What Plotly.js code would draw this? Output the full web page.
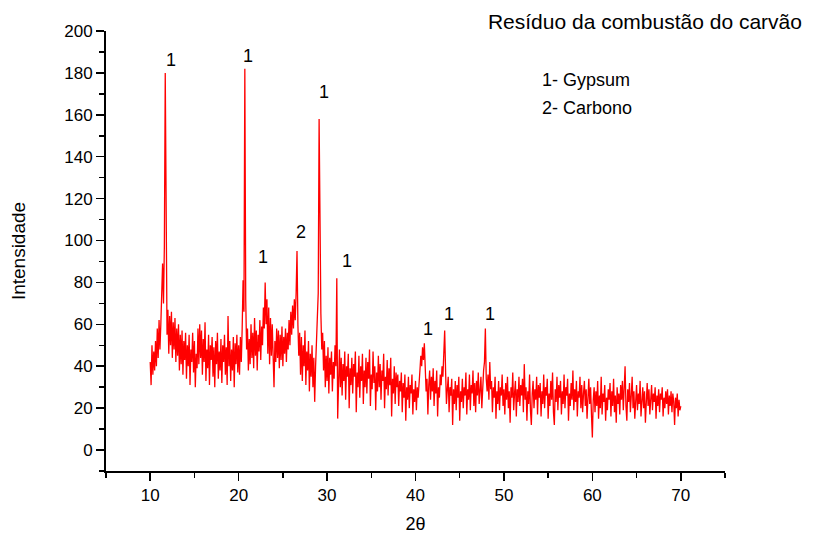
<!DOCTYPE html>
<html>
<head>
<meta charset="utf-8">
<script src="https://cdn.plot.ly/plotly-3.0.1.min.js"></script>
<style>
  html, body { margin: 0; padding: 0; background: #ffffff; }
  #chart { width: 819px; height: 534px; }
</style>
</head>
<body>
<div id="chart"></div>
<script>
// XRD scan of coal combustion residue: 2θ from 10° to 70°, step 0.1°
const scanStart = 10.0;
const scanStep = 0.1;

// Intensities, one block per 10° of 2θ
const counts10to20 = [
  42, 31, 50, 36, 47, 38, 52, 40, 58, 44,
  62, 48, 60, 74, 89, 70, 97, 180, 86, 55,
  67, 46, 64, 50, 66, 44, 61, 48, 63, 42,
  58, 45, 60, 38, 55, 41, 57, 36, 52, 43,
  56, 34, 50, 40, 55, 31, 48, 42, 56, 37,
  52, 30, 46, 39, 58, 41, 60, 44, 57, 36,
  53, 42, 61, 33, 48, 39, 55, 31, 50, 43,
  54, 35, 49, 30, 52, 41, 56, 34, 47, 38,
  53, 32, 50, 42, 55, 36, 49, 31, 64, 40,
  52, 33, 48, 38, 54, 30, 51, 41, 55, 37
];
const counts20to30 = [
  50, 36, 54, 42, 58, 81, 66, 182, 72, 48,
  58, 38, 53, 41, 60, 44, 56, 39, 63, 45,
  57, 38, 55, 47, 62, 43, 59, 50, 68, 58,
  80, 60, 72, 46, 68, 41, 63, 45, 60, 37,
  30, 52, 42, 58, 44, 57, 39, 55, 43, 59,
  40, 54, 46, 58, 42, 56, 48, 62, 50, 66,
  55, 69, 58, 72, 62, 75, 95, 60, 45, 56,
  36, 54, 33, 50, 40, 57, 31, 47, 38, 52,
  28, 46, 35, 50, 30, 44, 23, 40, 52, 60,
  75, 158, 90, 65, 48, 56, 38, 52, 30, 45
];
const counts30to40 = [
  33, 49, 27, 44, 36, 47, 28, 42, 34, 50,
  40, 82, 15, 38, 48, 30, 44, 26, 41, 33,
  47, 24, 40, 35, 46, 20, 39, 31, 44, 27,
  41, 35, 47, 18, 37, 30, 45, 25, 40, 33,
  46, 22, 38, 30, 44, 27, 42, 34, 48, 21,
  36, 29, 47, 32, 40, 19, 37, 28, 45, 30,
  41, 24, 38, 33, 46, 20, 35, 29, 43, 26,
  39, 31, 44, 16, 34, 27, 40, 22, 37, 30,
  36, 21, 33, 28, 37, 18, 32, 25, 36, 14,
  30, 24, 35, 20, 31, 27, 36, 17, 29, 23
];
const counts40to50 = [
  33, 19, 30, 25, 35, 38, 45, 40, 49, 43,
  51, 36, 28, 34, 17, 31, 38, 24, 35, 28,
  39, 21, 33, 27, 38, 16, 30, 25, 36, 31,
  40, 35, 44, 57, 38, 22, 29, 35, 18, 30,
  26, 34, 12, 29, 22, 33, 19, 31, 25, 35,
  14, 28, 23, 34, 20, 30, 26, 37, 17, 29,
  24, 36, 19, 31, 27, 38, 21, 32, 18, 33,
  26, 37, 22, 30, 35, 20, 31, 38, 42, 58,
  34, 28, 36, 24, 42, 29, 33, 18, 30, 25,
  35, 15, 28, 22, 33, 19, 30, 26, 36, 21
];
const counts50to60 = [
  29, 17, 32, 24, 35, 20, 28, 13, 30, 25,
  37, 19, 27, 33, 16, 29, 23, 35, 21, 31,
  26, 34, 18, 41, 24, 30, 14, 28, 22, 36,
  19, 12, 27, 33, 20, 29, 24, 35, 17, 31,
  25, 32, 16, 28, 22, 36, 20, 30, 26, 34,
  15, 27, 21, 33, 24, 37, 18, 12, 29, 23,
  35, 19, 31, 25, 33, 17, 28, 22, 36, 20,
  30, 26, 34, 14, 27, 21, 32, 24, 38, 19,
  29, 23, 33, 16, 28, 25, 35, 20, 31, 18,
  27, 33, 21, 29, 15, 26, 34, 22, 30, 17
];
const counts60to70 = [
  6, 24, 30, 18, 28, 21, 33, 15, 26, 20,
  35, 17, 27, 23, 31, 14, 25, 19, 29, 24,
  32, 16, 28, 21, 34, 18, 26, 13, 30, 22,
  27, 17, 31, 24, 33, 19, 28, 40, 21, 14,
  29, 23, 32, 18, 26, 35, 20, 28, 15, 25,
  31, 19, 27, 22, 33, 16, 24, 30, 20, 28,
  13, 26, 32, 21, 29, 17, 25, 31, 19, 27,
  23, 30, 15, 26, 21, 29, 18, 27, 24, 30,
  16, 25, 20, 28, 22, 29, 17, 26, 21, 28,
  18, 27, 23, 12, 25, 20, 27, 16, 24, 19,
  21
];

// Phase markers: peak position (2θ), label height, phase number
const markerTheta = [12.3, 21.1, 29.6, 27.0, 22.8, 32.2, 41.4, 43.8, 48.4];
const markerLevel = [186, 188, 171, 104, 92, 90, 58, 65, 65];
const markerPhase = ['1', '1', '1', '2', '1', '1', '1', '1', '1'];

const legendLines = ['1- Gypsum', '2- Carbono'];

const intensity = [].concat(counts10to20, counts20to30, counts30to40,
                            counts40to50, counts50to60, counts60to70);
const twoTheta = intensity.map((_, i) => +(scanStart + i * scanStep).toFixed(1));

const fontFamily = 'Liberation Sans, Arial, Helvetica, sans-serif';

const annotations = markerTheta.map((t, i) => ({
  x: t, y: markerLevel[i], xref: 'x', yref: 'y',
  text: markerPhase[i], showarrow: false,
  font: { family: fontFamily, size: 18, color: '#000' },
  xanchor: 'center', yanchor: 'middle'
}));

annotations.push(
  { x: 0.701, y: 0.889, xref: 'paper', yref: 'paper', text: legendLines[0],
    showarrow: false, xanchor: 'left', yanchor: 'middle',
    font: { family: fontFamily, size: 18, color: '#000' } },
  { x: 0.701, y: 0.825, xref: 'paper', yref: 'paper', text: legendLines[1],
    showarrow: false, xanchor: 'left', yanchor: 'middle',
    font: { family: fontFamily, size: 18, color: '#000' } }
);

const trace = {
  x: twoTheta,
  y: intensity,
  type: 'scatter',
  mode: 'lines',
  line: { color: '#ff0000', width: 1.3 },
  hoverinfo: 'x+y'
};

const layout = {
  width: 819,
  height: 534,
  margin: { l: 106, r: 94, t: 31, b: 63 },
  paper_bgcolor: '#ffffff',
  plot_bgcolor: '#ffffff',
  showlegend: false,
  font: { family: fontFamily, color: '#000' },
  title: {
    text: 'Resíduo da combustão do carvão',
    font: { family: fontFamily, size: 21, color: '#000' },
    x: 0.7875, xanchor: 'center', xref: 'container',
    y: 0.959, yanchor: 'middle', yref: 'container'
  },
  xaxis: {
    range: [5, 75],
    tickmode: 'linear', tick0: 10, dtick: 10,
    ticks: 'outside', ticklen: 8, tickwidth: 1.5, tickcolor: '#000',
    minor: { tickmode: 'linear', tick0: 5, dtick: 5, ticks: 'outside', ticklen: 5, tickwidth: 1.5, tickcolor: '#000' },
    showline: true, linecolor: '#000', linewidth: 2,
    showgrid: false, zeroline: false,
    tickfont: { family: fontFamily, size: 17, color: '#000' },
    title: { text: '2θ', font: { family: fontFamily, size: 18, color: '#000' }, standoff: 14 }
  },
  yaxis: {
    range: [-10, 200],
    tickmode: 'linear', tick0: 0, dtick: 20,
    ticks: 'outside', ticklen: 8, tickwidth: 1.5, tickcolor: '#000',
    minor: { tickmode: 'linear', tick0: -10, dtick: 10, ticks: 'outside', ticklen: 5, tickwidth: 1.5, tickcolor: '#000' },
    showline: true, linecolor: '#000', linewidth: 2,
    showgrid: false, zeroline: false,
    tickfont: { family: fontFamily, size: 17, color: '#000' },
    title: { text: 'Intensidade', font: { family: fontFamily, size: 19, color: '#000' }, standoff: 34 }
  },
  annotations: annotations
};

Plotly.newPlot('chart', [trace], layout, { displayModeBar: false, staticPlot: true });
</script>
</body>
</html>
